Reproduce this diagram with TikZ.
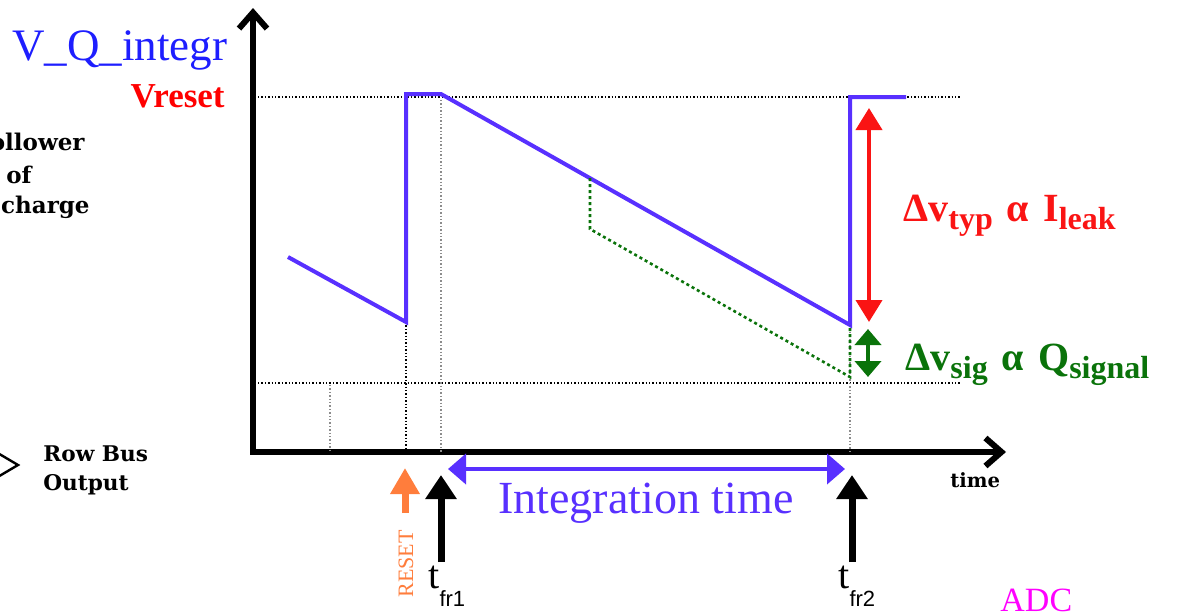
\documentclass[tikz,border=0pt]{standalone}
\usepackage{fontspec}
\setmainfont{Liberation Serif}
\newfontfamily\slabfont{DejaVu Serif}
\newfontfamily\arialfont{Liberation Sans}
\usetikzlibrary{arrows.meta}

\definecolor{waveblue}{RGB}{88,48,255}
\definecolor{labelblue}{RGB}{30,30,255}
\definecolor{leakred}{RGB}{250,20,20}
\definecolor{sigreen}{RGB}{10,115,10}
\definecolor{resetorange}{RGB}{255,125,60}
\definecolor{adcmagenta}{RGB}{255,0,255}

\newcommand{\dropsub}[3]{\raisebox{-#1}{\fontsize{#2}{#2}\selectfont #3}}

\begin{document}
\begin{tikzpicture}[
    x=0.5pt, y=-0.5pt,
    axis/.style={line width=3pt, line join=miter, {Straight Barb[length=8pt, width=14pt]}-{Straight Barb[length=8pt, width=14pt]}},
    wave/.style={waveblue, line width=2pt, line join=miter},
    guide/.style={black, line width=0.7pt, dash pattern=on 0.7pt off 1pt},
    faint/.style={black!45, line width=0.6pt, dash pattern=on 0.7pt off 1pt},
    sigpath/.style={sigreen, line width=1.3pt, dash pattern=on 1.5pt off 1.5pt},
    span/.style={line width=2pt, {Triangle[length=#1, width=13pt]}-{Triangle[length=#1, width=13pt]}},
    evtarrow/.style={line width=3.5pt, -{Triangle[length=12pt, width=15pt]}},
    sidelbl/.style={inner sep=0pt, font=\slabfont\bfseries\fontsize{11.5}{14}\selectfont},
    smalllbl/.style={inner sep=0pt, font=\slabfont\bfseries\fontsize{10.8}{14.5}\selectfont, align=left},
    deltalbl/.style={anchor=base west, inner sep=0pt, font=\bfseries\fontsize{20}{22}\selectfont},
]

\useasboundingbox (0,0) rectangle (1180,616);
\clip (0,0) rectangle (1180,616);

% ---- Axes ----
\coordinate (O) at (253,452);
\coordinate (ytop) at (253,8);
\coordinate (xend) at (1006,452);
\draw[axis] (ytop) -- (O) -- (xend);

% ---- Guide lines ----
\coordinate (rl) at (258,97);
\coordinate (rr) at (960,97);
\coordinate (bl) at (258,383);
\coordinate (br) at (960,383);
\coordinate (q) at (330,385);
\draw[guide] (rl) -- (rr);
\draw[guide] (bl) -- (br);
\draw[faint] (q) -- (q |- O);

% ---- Integrator voltage ----
\coordinate (w0) at (288,257);
\coordinate (w1) at (406,322);
\coordinate (w2) at (406,94);
\coordinate (w3) at (441,94);
\coordinate (w4) at (850,325);
\coordinate (w5) at (850,97);
\coordinate (w6) at (906,97);
\draw[guide] (w1) -- (w1 |- O);
\draw[faint] (w3) ++(0,6) -- (w3 |- O);
\draw[faint] (w4) -- (w4 |- O);
\draw[wave] (w0) -- (w1) -- (w2) -- (w3) -- (w4) -- (w5) -- (w6);

% ---- Signal path ----
\coordinate (s0) at (590,178);
\coordinate (s1) at (590,229);
\coordinate (s2) at (850,377);
\draw[sigpath] (s0) -- (s1) -- (s2) -- (w4);

% ---- Delta arrows ----
\coordinate (rt) at (869,108);
\coordinate (rb) at (869,322);
\coordinate (gt) at (868,329);
\coordinate (gb) at (868,377);
\draw[span=11pt, leakred] (rt) -- (rb);
\draw[span=8pt, sigreen] (gt) -- (gb);

% ---- Integration time ----
\coordinate (il) at (448,469);
\coordinate (ir) at (845,469);
\draw[waveblue, line width=2pt, {Triangle[length=9pt, width=15pt]}-{Triangle[length=9pt, width=15pt]}] (il) -- (ir);

% ---- Frame markers ----
\coordinate (t1b) at (441,562);
\coordinate (t1t) at (441,475);
\coordinate (t2b) at (852,562);
\coordinate (t2t) at (852,475);
\coordinate (rsb) at (405,513);
\coordinate (rst) at (405,468);
\draw[evtarrow] (t1b) -- (t1t);
\draw[evtarrow] (t2b) -- (t2t);
\draw[evtarrow, resetorange, -{Triangle[length=13pt, width=14pt]}] (rsb) -- (rst);

% ---- Row bus chevron ----
\coordinate (c0) at (-4,452);
\coordinate (c1) at (18,465);
\coordinate (c2) at (-4,478);
\draw[line width=1.2pt, line join=miter] (c0) -- (c1) -- (c2);

% ---- Labels ----
\node[anchor=base west, inner sep=0pt, labelblue, font=\fontsize{22.5}{24}\selectfont] (ylabel) at (12,60) {V\_Q\_integr};
\node[anchor=base east, inner sep=0pt, red, font=\bfseries\fontsize{17.5}{20}\selectfont] (vreset) at (225,107) {Vreset};
\node[sidelbl, anchor=base east] (follow1) at (85,150) {follower};
\node[sidelbl, anchor=base east] (follow2) at (32,183) {reading of};
\node[sidelbl, anchor=base east] (follow3) at (90,213) {charge};
\node[smalllbl, anchor=north west] (rowbus) at (43,445) {Row Bus\\Output};
\node[anchor=base west, inner sep=0pt, font=\slabfont\bfseries\fontsize{9.8}{11}\selectfont] (timelbl) at (950,487) {time};
\node[anchor=base west, inner sep=0pt, waveblue, font=\fontsize{23}{25}\selectfont] (intlbl) at (498,513) {Integration time};
\node[deltalbl, leakred] (typlbl) at (903,221) {Δv\dropsub{4pt}{16}{typ}\hspace{2pt} α\hspace{2pt} I\dropsub{4pt}{16}{leak}};
\node[deltalbl, sigreen] (siglbl) at (905,370) {Δv\dropsub{4pt}{16}{sig}\hspace{2pt} α\hspace{2pt} Q\dropsub{4pt}{16}{signal}};
\node[anchor=base west, inner sep=0pt, font=\fontsize{20}{22}\selectfont] (tfr1) at (428,588) {t\dropsub{9pt}{11}{\arialfont fr1}};
\node[anchor=base west, inner sep=0pt, font=\fontsize{20}{22}\selectfont] (tfr2) at (838,588) {t\dropsub{9pt}{11}{\arialfont fr2}};
\node[anchor=base west, inner sep=0pt, adcmagenta, font=\fontsize{17}{19}\selectfont] (adc) at (1000,611) {ADC};
\node[inner sep=0pt, rotate=90, resetorange, font=\fontsize{11}{12}\selectfont] (rstlbl) at (406,564) {RESET};

\end{tikzpicture}
\end{document}
